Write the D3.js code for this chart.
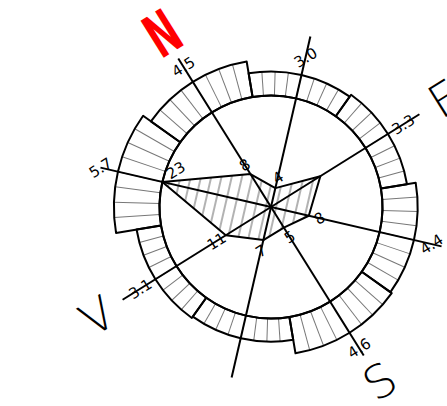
<!DOCTYPE html>
<html>
<head>
<meta charset="utf-8">
<script src="https://cdn.jsdelivr.net/npm/d3@7"></script>
<style>
  body { margin: 0; background: #fff; }
  svg { display: block; }
  text { font-family: "DejaVu Sans", "Liberation Sans", sans-serif; }
</style>
</head>
<body>
<svg width="447" height="406"></svg>
<script>
// wind rose: ring = mean speed, hatched star = count per direction
const directions = ["N", "NE", "E", "SE", "S", "SW", "W", "NW"];
const speeds = [4.5, 3.0, 3.3, 4.4, 4.6, 2.9, 3.1, 5.7];
const counts = [8, 4, 12, 8, 5, 7, 11, 23];
const hiddenSpeedLabels = ["SW"];
const hiddenCountLabels = ["E"];
const compassDirs = ["N", "E", "S", "W"];
const compassText = ["N", "E", "S", "V"];

const svg = d3.select("svg");
const cx = 271, cy = 207, rotation = -32;
const rInner = 111.5, spokeLen = 175;

const rows = directions.map((d, i) => ({ dir: d, speed: speeds[i], count: counts[i] }));

const angle = d3.scaleBand()
    .domain(directions)
    .range([-Math.PI / 8, 2 * Math.PI - Math.PI / 8]);
const mid = d => angle(d) + angle.bandwidth() / 2;
const rCount = d3.scaleLinear().domain([0, d3.max(counts)]).range([0, rInner]);
const rSpeed = d3.scaleLinear().domain([0, 6]).range([rInner, rInner + 48]);
const pt = (a, r) => [r * Math.sin(a), -r * Math.cos(a)];

const defs = svg.append("defs");
defs.append("pattern")
    .attr("id", "hatch")
    .attr("patternUnits", "userSpaceOnUse")
    .attr("width", 10)
    .attr("height", 10)
    .attr("patternTransform", "rotate(45)")
  .append("line")
    .attr("x1", 5).attr("y1", 0)
    .attr("x2", 5).attr("y2", 10)
    .attr("stroke", "#666")
    .attr("stroke-width", 1);

const g = svg.append("g")
    .attr("transform", `translate(${cx},${cy}) rotate(${rotation})`);

// speed ring
const arc = d3.arc()
    .innerRadius(rInner)
    .outerRadius(d => rSpeed(d.speed))
    .startAngle(d => angle(d.dir))
    .endAngle(d => angle(d.dir) + angle.bandwidth());

g.append("g").selectAll("path")
    .data(rows)
    .join("path")
    .attr("d", arc)
    .attr("fill", "#fff");

const ticks = rows.flatMap(d => d3.range(1, 8).map(k => ({
    a: angle(d.dir) + k * angle.bandwidth() / 8,
    r: rSpeed(d.speed)
})));

g.append("g").selectAll("line")
    .data(ticks)
    .join("line")
    .attr("x1", t => pt(t.a, rInner)[0])
    .attr("y1", t => pt(t.a, rInner)[1])
    .attr("x2", t => pt(t.a, t.r)[0])
    .attr("y2", t => pt(t.a, t.r)[1])
    .attr("stroke", "#777")
    .attr("stroke-width", 1);

g.append("g").selectAll("path")
    .data(rows)
    .join("path")
    .attr("d", arc)
    .attr("fill", "none")
    .attr("stroke", "#000")
    .attr("stroke-width", 2)
    .attr("stroke-linejoin", "round");

g.append("circle")
    .attr("r", rInner)
    .attr("fill", "none")
    .attr("stroke", "#000")
    .attr("stroke-width", 2);

// count star
const star = d3.lineRadial()
    .angle(d => mid(d.dir))
    .radius(d => rCount(d.count))
    .curve(d3.curveLinearClosed);

g.append("path")
    .datum(rows)
    .attr("d", star)
    .attr("fill", "url(#hatch)")
    .attr("stroke", "#000")
    .attr("stroke-width", 2)
    .attr("stroke-linejoin", "round");

// spokes
g.append("g").selectAll("line")
    .data(rows)
    .join("line")
    .attr("x1", 0).attr("y1", 0)
    .attr("x2", d => pt(mid(d.dir), spokeLen)[0])
    .attr("y2", d => pt(mid(d.dir), spokeLen)[1])
    .attr("stroke", "#000")
    .attr("stroke-width", 2);

// speed labels
g.append("g").selectAll("text")
    .data(rows.filter(d => !hiddenSpeedLabels.includes(d.dir)))
    .join("text")
    .attr("x", d => pt(mid(d.dir), rSpeed(d.speed) + 18)[0])
    .attr("y", d => pt(mid(d.dir), rSpeed(d.speed) + 18)[1])
    .attr("dy", "0.36em")
    .attr("text-anchor", "middle")
    .attr("font-size", 15)
    .text(d => d3.format(".1f")(d.speed));

// count labels
const maxCount = d3.max(counts);
g.append("g").selectAll("text")
    .data(rows.filter(d => !hiddenCountLabels.includes(d.dir)))
    .join("text")
    .each(function (d) {
        const v = pt(mid(d.dir), rCount(d.count));
        const t = d3.select(this);
        if (d.count === maxCount) {
            t.attr("x", v[0] + 8).attr("y", v[1] - 3).attr("text-anchor", "start");
        } else {
            const o = pt(mid(d.dir), rCount(d.count) + 11);
            t.attr("x", o[0]).attr("y", o[1]).attr("text-anchor", "middle");
        }
    })
    .attr("dy", "0.36em")
    .attr("font-size", 15)
    .text(d => d.count);

// compass letters
g.append("g").selectAll("text")
    .data(compassDirs)
    .join("text")
    .attr("transform", (d, i) => {
        const p = pt(mid(d), 205);
        return i === 0 ? `translate(${p[0]},${p[1]}) scale(0.6,1)` : `translate(${p[0]},${p[1]})`;
    })
    .attr("dy", "0.36em")
    .attr("text-anchor", "middle")
    .attr("font-size", (d, i) => i === 0 ? 60 : 46)
    .attr("font-weight", (d, i) => i === 0 ? "bold" : 200)
    .attr("font-family", (d, i) => i === 0 ? null : "'Open Sans', 'DejaVu Sans', sans-serif")
    .attr("fill", (d, i) => i === 0 ? "#f00" : "#000")
    .text((d, i) => compassText[i]);
</script>
</body>
</html>
